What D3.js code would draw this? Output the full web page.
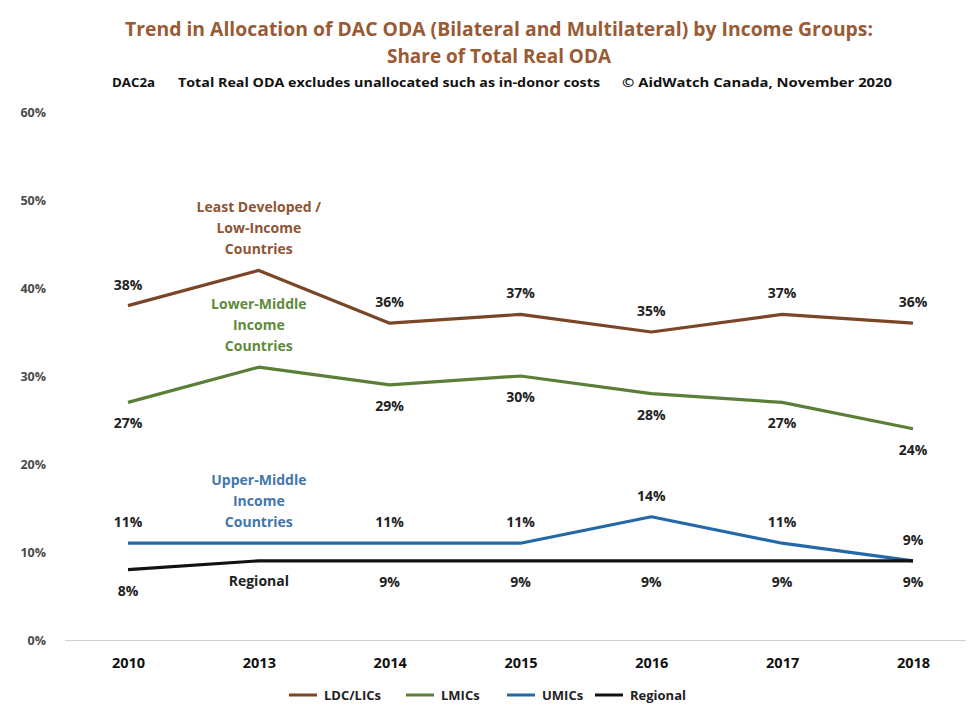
<!DOCTYPE html>
<html>
<head>
<meta charset="utf-8">
<script src="https://cdn.jsdelivr.net/npm/d3@7/dist/d3.min.js"></script>
<style>
  html, body { margin: 0; padding: 0; background: #fff; }
  svg { display: block; }
  text { font-family: "Open Sans", Lato, sans-serif; font-weight: bold; }
</style>
</head>
<body>
<svg id="chart" width="968" height="709"></svg>
<script>
// Years on the x axis
const years = ["2010", "2013", "2014", "2015", "2016", "2017", "2018"];

// Share of total real ODA (%) by income group
const ldcValues      = [38, 42, 36, 37, 35, 37, 36];
const lmicValues     = [27, 31, 29, 30, 28, 27, 24];
const umicValues     = [11, 11, 11, 11, 14, 11, 9];
const regionalValues = [8, 9, 9, 9, 9, 9, 9];

// Y axis ticks
const yTicks = [0, 10, 20, 30, 40, 50, 60];

// Series metadata
const seriesNames  = ["LDC/LICs", "LMICs", "UMICs", "Regional"];
const seriesLabels = [
  ["Least Developed /", "Low-Income", "Countries"],
  ["Lower-Middle", "Income", "Countries"],
  ["Upper-Middle", "Income", "Countries"],
  ["Regional"]
];

const titleLines = [
  "Trend in Allocation of DAC ODA (Bilateral and Multilateral) by Income Groups:",
  "Share of Total Real ODA"
];
const subtitleParts = [
  "DAC2a",
  "Total Real ODA excludes unallocated  such as in-donor  costs",
  "\u00A9 AidWatch Canada, November 2020"
];

const FONT = "'Open Sans', Lato, sans-serif";
const svg = d3.select("#chart");

const x = d3.scalePoint().domain(years).range([62.6, 978.4]).padding(0.5);
const y = d3.scaleLinear().domain([0, 60]).range([640, 112]);

const series = [
  { name: seriesNames[0], values: ldcValues,      line: "#7b4527", label: "#8e5433", labelPos: "above", nameLines: seriesLabels[0] },
  { name: seriesNames[1], values: lmicValues,     line: "#5b7f38", label: "#5f8a3c", labelPos: "below", nameLines: seriesLabels[1] },
  { name: seriesNames[2], values: umicValues,     line: "#2468a8", label: "#4476aa", labelPos: "above", nameLines: seriesLabels[2] },
  { name: seriesNames[3], values: regionalValues, line: "#111111", label: "#222222", labelPos: "below", nameLines: seriesLabels[3] }
];

// Title
const titleLen = [748, 224];
svg.append("g").selectAll("text").data(titleLines).join("text")
  .attr("x", 499).attr("y", (d, i) => 36 + i * 27)
  .attr("text-anchor", "middle")
  .attr("font-size", 19)
  .attr("fill", "#9a5a33")
  .attr("textLength", (d, i) => titleLen[i])
  .attr("lengthAdjust", "spacingAndGlyphs")
  .text(d => d);

// Subtitle
const subX = [112, 178, 622];
const subLen = [43, 422, 270];
svg.append("g").selectAll("text").data(subtitleParts).join("text")
  .attr("x", (d, i) => subX[i]).attr("y", 87)
  .attr("font-size", 13)
  .attr("fill", "#111")
  .attr("textLength", (d, i) => subLen[i])
  .attr("lengthAdjust", "spacingAndGlyphs")
  .text(d => d);

// Y axis labels only (no gridlines)
const yAxis = d3.axisLeft(y).tickValues(yTicks).tickSize(0).tickFormat(d => d + "%");
const gy = svg.append("g").attr("transform", "translate(46,0)").call(yAxis);
gy.select(".domain").remove();
gy.selectAll("text")
  .attr("font-size", 12.5)
  .attr("fill", "#4a4a4a")
  .attr("font-family", FONT)
  .attr("font-weight", "bold")
  .attr("dy", "0.35em")
  .attr("x", 0);

// X axis
const xAxis = d3.axisBottom(x).tickSize(0).tickPadding(18);
const gx = svg.append("g").attr("transform", "translate(0,640)").call(xAxis);
gx.select(".domain").attr("stroke", "#d0d0d0").attr("d", "M65,0.5H966");
gx.selectAll("text")
  .attr("font-size", 14.5)
  .attr("fill", "#111")
  .attr("font-family", FONT)
  .attr("font-weight", "bold");

// Lines
const line = d3.line().x((d, i) => x(years[i])).y(d => y(d));
svg.append("g").selectAll("path").data(series).join("path")
  .attr("d", s => line(s.values))
  .attr("fill", "none")
  .attr("stroke", s => s.line)
  .attr("stroke-width", 3.2)
  .attr("stroke-linejoin", "round");

// Value labels (skip 2013, where series names are shown)
series.forEach(s => {
  svg.append("g").selectAll("text")
    .data(s.values.map((v, i) => ({ v, i })).filter(d => d.i !== 1))
    .join("text")
    .attr("x", d => x(years[d.i]))
    .attr("y", d => y(d.v) + (s.labelPos === "above" ? -16 : 26))
    .attr("text-anchor", "middle")
    .attr("font-size", 14)
    .attr("fill", "#222")
    .text(d => d.v + "%");
});

// Series name labels at 2013
series.forEach((s, si) => {
  const n = s.nameLines.length;
  const py = y(s.values[1]);
  const lineH = 21;
  const startY = si === 3 ? py + 25 : py - 16 - (n - 1) * lineH;
  svg.append("g").selectAll("text").data(s.nameLines).join("text")
    .attr("x", x(years[1]))
    .attr("y", (d, i) => startY + i * lineH)
    .attr("text-anchor", "middle")
    .attr("font-size", 14)
    .attr("fill", s.label)
    .text(d => d);
});

// Legend
const legendX = [289, 406, 507, 595];
const leg = svg.append("g").selectAll("g").data(series).join("g")
  .attr("transform", (d, i) => `translate(${legendX[i]},695)`);
leg.append("line").attr("x1", 0).attr("x2", 28).attr("y1", 0).attr("y2", 0)
  .attr("stroke", d => d.line).attr("stroke-width", 3);
leg.append("text").attr("x", 35).attr("y", 4.5)
  .attr("font-size", 13).attr("fill", "#222")
  .text(d => d.name);
</script>
</body>
</html>
